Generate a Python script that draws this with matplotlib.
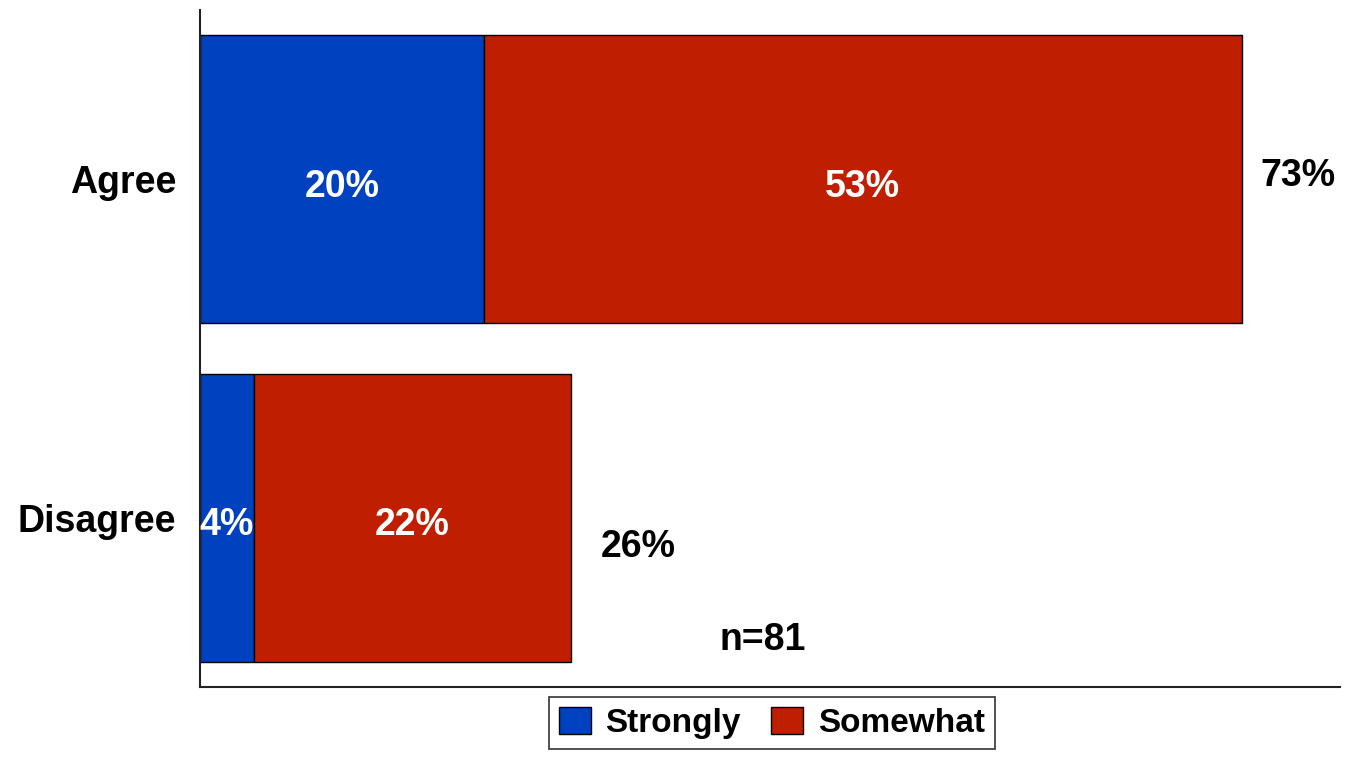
import matplotlib.pyplot as plt
import numpy as np

plt.rcParams['font.family'] = ['Liberation Sans', 'DejaVu Sans']
plt.rcParams['font.weight'] = 'bold'

# data
categories = ['Disagree', 'Agree']
strongly = [3.8, 19.9]
somewhat = [22.2, 53.2]
series_names = ['Strongly', 'Somewhat']
n_note = 'n=81'

blue = '#0041C0'
red = '#C01E00'

fig = plt.figure(figsize=(13.66, 7.67), dpi=100)
ax = fig.add_axes([0.1464, 0.1043, 0.8346, 0.8827])

y = np.arange(len(categories))
h = 0.85
b1 = ax.barh(y, strongly, h, color=blue, edgecolor='black', linewidth=1, label=series_names[0])
b2 = ax.barh(y, somewhat, h, left=strongly, color=red, edgecolor='black', linewidth=1, label=series_names[1])

# segment labels
for i in range(len(categories)):
    ax.text(strongly[i] / 2, y[i] - 0.01, '%d%%' % round(strongly[i]), ha='center', va='center_baseline',
            color='white', fontsize=27, fontweight='bold')
    ax.text(strongly[i] + somewhat[i] / 2, y[i] - 0.01, '%d%%' % round(somewhat[i]), ha='center',
            va='center_baseline', color='white', fontsize=27, fontweight='bold')

# totals to the right (offsets as in the original layout)
tot_dx = [2.1, 1.3]
tot_dy = [-0.074, 0.02]
for i in range(len(categories)):
    tot = strongly[i] + somewhat[i]
    ax.text(tot + tot_dx[i], y[i] + tot_dy[i], '%d%%' % round(tot), ha='left', va='center_baseline',
            color='black', fontsize=27, fontweight='bold')

ax.text(39.5, -0.35, n_note, ha='center', va='center_baseline', fontsize=27, fontweight='bold')

ax.set_xlim(0, 80)
ax.set_ylim(-0.5, 1.5)
ax.set_yticks(y)
ax.set_yticklabels(categories, fontsize=27, fontweight='bold')
ax.set_xticks([])
ax.tick_params(axis='y', length=0, pad=17)
for s in ['top', 'right']:
    ax.spines[s].set_visible(False)
for s in ['left', 'bottom']:
    ax.spines[s].set_linewidth(1.5)
    ax.spines[s].set_color('#222222')

leg = fig.legend(handles=[b1, b2], loc='center', bbox_to_anchor=(0.565, 0.0574), ncol=2,
                 frameon=True, fancybox=False, edgecolor='black',
                 handlelength=0.96, handleheight=0.85, columnspacing=0.9, handletextpad=0.45,
                 borderpad=0.3, prop={'weight': 'bold', 'size': 24})
leg.get_frame().set_linewidth(1.2)

fig.savefig('out.png', dpi=100)
